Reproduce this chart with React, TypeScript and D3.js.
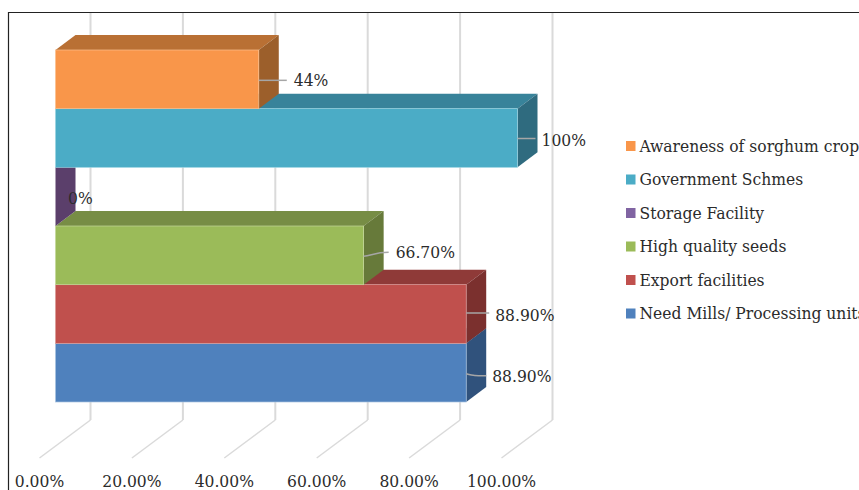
import React from "react";
import * as d3 from "d3";

// Categories listed from the bottom bar to the top bar.
const categories = [
  "Need Mills/ Processing units",
  "Export facilities",
  "High quality seeds",
  "Storage Facility",
  "Government Schmes",
  "Awareness of sorghum crop",
];
const values = [88.9, 88.9, 66.7, 0, 100, 44];
const valueLabels = ["88.90%", "88.90%", "66.70%", "0%", "100%", "44%"];
const axisTicks = [0, 20, 40, 60, 80, 100];
const frontColors = ["#4F81BD", "#C0504D", "#9BBB59", "#8064A2", "#4BACC6", "#F9964A"];
const topColors = ["#3B6291", "#8F3A38", "#778D45", "#5F4A7A", "#38839A", "#B97034"];
const sideColors = ["#30527C", "#7B302E", "#677A3A", "#5B3F6B", "#2F6B7F", "#9C5F2B"];
const edgeColors = ["#A9C3E0", "#D99A98", "#C4D89A", "#B5A3CC", "#9AD3E2", "#FBC08F"];

const FONT = "'DejaVu Serif Condensed', 'DejaVu Serif', serif";
const FONT_SIZE = 17.3;
const INK = "#2B2B2B";
const DEPTH_X = 20;
const DEPTH_Y = -15;

const x = d3.scaleLinear().domain([0, 100]).range([55.5, 517.5]);
const y = d3.scaleBand<string>().domain(categories).range([402, 50]).padding(0);

// Where each value label and its leader sit relative to the end of the bar.
const leaderPaths = [
  (e: number, c: number) => `M${e},${c + 1} C${e + 8},${c + 3} ${e + 8},${c + 3} ${e + 20},${c + 3}`,
  (e: number, c: number) => `M${e},${c - 1} L${e + 23},${c - 1}`,
  (e: number, c: number) => `M${e},${c + 1} C${e + 8},${c} ${e + 12},${c - 3} ${e + 25},${c - 3}`,
  null,
  (e: number, c: number) => `M${e},${c + 0.5} L${e + 18},${c + 0.5}`,
  (e: number, c: number) => `M${e},${c + 1} L${e + 28},${c + 1}`,
];
const labelOffsets = [
  [26, 3.5],
  [29, 1],
  [32, -3],
  [12.5, 1],
  [24, 2],
  [35, 1],
];

const poly = (pts: number[][]) => (d3.line()(pts as [number, number][]) ?? "") + "Z";

export default function App() {
  const band = y.bandwidth();
  const floorBack = 420;
  const gridX = (t: number) => x(t) + 35;
  const legendRows = categories.map((_, i) => i).reverse();

  return (
    <svg
      width={859}
      height={490}
      style={{ position: "absolute", left: 0, top: 0, background: "#fff" }}
      fontFamily={FONT}
    >
      <path d="M8.5,490 V12.5 H859" fill="none" stroke="#222" strokeWidth={1.2} />

      {axisTicks.map((t) => (
        <g key={t}>
          <path d={`M${gridX(t)},13 V${floorBack}`} fill="none" stroke="#DADADA" strokeWidth={2} />
          <path
            d={`M${gridX(t)},${floorBack} L${gridX(t) - 51},${floorBack + 38}`}
            fill="none"
            stroke="#DADADA"
            strokeWidth={1.5}
          />
          <text
            x={gridX(t) - 51}
            y={487}
            textAnchor="middle"
            fontSize={FONT_SIZE}
            fill={INK}
          >
            {t.toFixed(2)}%
          </text>
        </g>
      ))}

      {categories.map((c, i) => {
        const x0 = x(0);
        const x1 = x(values[i]);
        const top = y(c) as number;
        const bottom = top + band;
        return (
          <g key={c}>
            <path
              d={poly([
                [x0, top],
                [x0 + DEPTH_X, top + DEPTH_Y],
                [x1 + DEPTH_X, top + DEPTH_Y],
                [x1, top],
              ])}
              fill={topColors[i]}
            />
            <path
              d={poly([
                [x1, top],
                [x1 + DEPTH_X, top + DEPTH_Y],
                [x1 + DEPTH_X, bottom + DEPTH_Y],
                [x1, bottom],
              ])}
              fill={sideColors[i]}
            />
            {values[i] > 0 && (
              <rect
                x={x0}
                y={top}
                width={x1 - x0}
                height={band}
                fill={frontColors[i]}
                stroke={edgeColors[i]}
                strokeWidth={0.7}
              />
            )}
          </g>
        );
      })}

      {categories.map((c, i) => {
        const end = x(values[i]);
        const mid = (y(c) as number) + band / 2;
        const leader = leaderPaths[i];
        return (
          <g key={c}>
            {leader && (
              <path d={leader(end, mid)} fill="none" stroke="#A6A6A6" strokeWidth={1.5} />
            )}
            <text
              x={end + labelOffsets[i][0]}
              y={mid + labelOffsets[i][1]}
              dy="0.35em"
              fontSize={FONT_SIZE}
              fill={INK}
            >
              {valueLabels[i]}
            </text>
          </g>
        );
      })}

      {legendRows.map((i, row) => {
        const cy = 146 + row * 33.5;
        return (
          <g key={categories[i]}>
            <rect x={626} y={cy - 5} width={9.5} height={10} fill={frontColors[i]} />
            <text x={639.5} y={cy} dy="0.32em" fontSize={FONT_SIZE} fill={INK}>
              {categories[i]}
            </text>
          </g>
        );
      })}
    </svg>
  );
}
